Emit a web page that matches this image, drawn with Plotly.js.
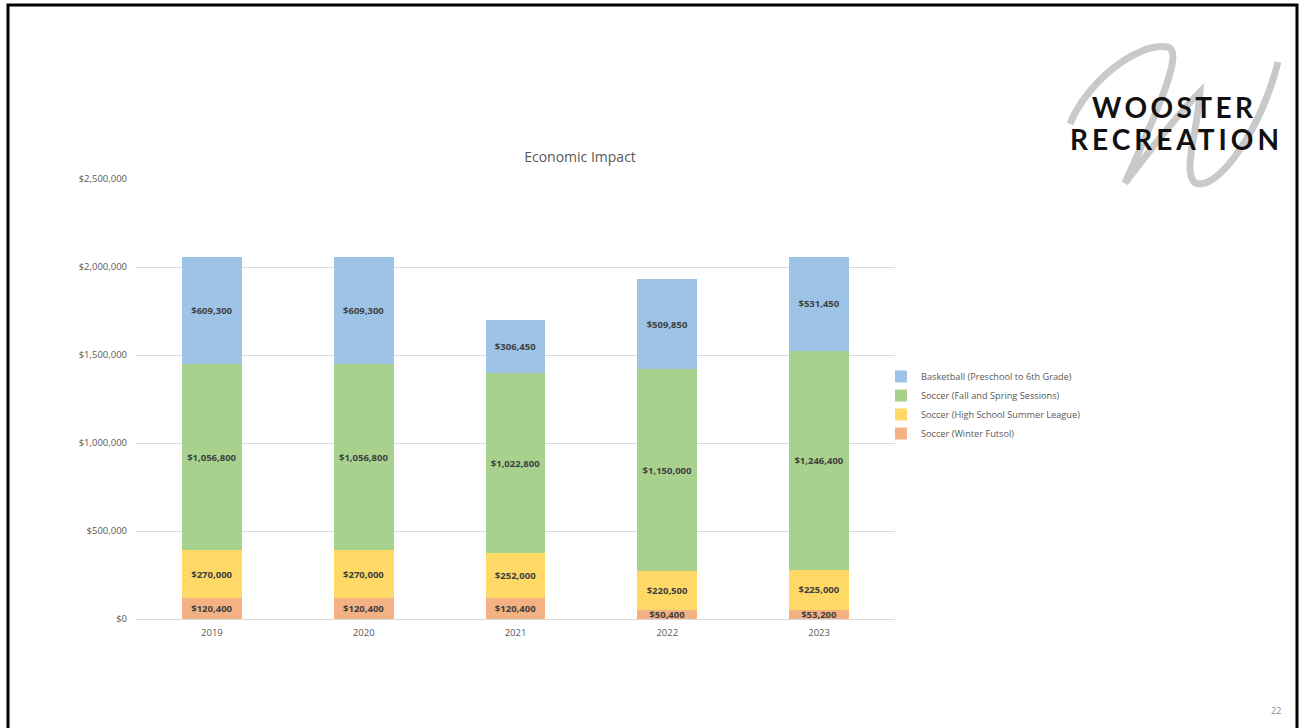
<!DOCTYPE html>
<html>
<head>
<meta charset="utf-8">
<script src="https://cdn.plot.ly/plotly-3.0.1.min.js"></script>
<style>
  html, body { margin: 0; padding: 0; background: #ffffff; }
  #chart { width: 1300px; height: 728px; }
  g.annotation[data-index="0"] text { letter-spacing: 3.4px; }
  g.annotation[data-index="1"] text { letter-spacing: 4px; }
</style>
</head>
<body>
<div id="chart"></div>
<script>
// ---- Data ----
const years = ["2019", "2020", "2021", "2022", "2023"];
const winterFutsol = [120400, 120400, 120400, 50400, 53200];
const highSchoolSummer = [270000, 270000, 252000, 220500, 225000];
const fallSpring = [1056800, 1056800, 1022800, 1150000, 1246400];
const basketball = [609300, 609300, 306450, 509850, 531450];

const seriesNames = [
  "Soccer (Winter Futsol)",
  "Soccer (High School Summer League)",
  "Soccer (Fall and Spring Sessions)",
  "Basketball (Preschool to 6th Grade)"
];
const seriesValues = [winterFutsol, highSchoolSummer, fallSpring, basketball];
const seriesColors = ["#F4B183", "#FFD966", "#A9D18E", "#9DC3E6"];

// ---- Layout helpers (plot area in pixels) ----
const W = 1300, H = 728;
const PL = 136, PR = 895, PT = 179, PB = 619;
const px = x => (x - PL) / (PR - PL);
const py = y => (PB - y) / (PB - PT);

const traces = seriesNames.map((name, i) => ({
  type: "bar",
  name: name,
  x: years,
  y: seriesValues[i],
  marker: { color: seriesColors[i], line: { width: 0 } },
  texttemplate: "$%{y:,.0f}",
  textposition: "inside",
  insidetextanchor: "middle",
  constraintext: "none",
  textangle: 0,
  textfont: { family: "Open Sans", size: 9.5, color: "#404040", weight: "bold" },
  hoverinfo: "x+y+name"
}));

// Script "W" swoosh of the logo (decoration)
const swooshPts = [
  [1070,124],
  [1085,85],[1135,42],[1168,47],
  [1182,52],[1165,95],[1125,183],
  [1150,150],[1180,112],[1200,92],
  [1198,130],[1182,172],[1195,183],
  [1218,192],[1262,128],[1278,62]
];
let swoosh = "M " + px(swooshPts[0][0]) + "," + py(swooshPts[0][1]);
for (let i = 1; i < swooshPts.length; i += 3) {
  swoosh += " C " + [0,1,2].map(k => px(swooshPts[i+k][0]) + "," + py(swooshPts[i+k][1])).join(" ");
}

const layout = {
  width: W, height: H,
  margin: { l: PL, r: W - PR, t: PT, b: H - PB, pad: 0 },
  paper_bgcolor: "#ffffff",
  plot_bgcolor: "#ffffff",
  barmode: "stack",
  bargap: 0.605,
  font: { family: "Open Sans", color: "#595959" },
  title: {
    text: "Economic Impact",
    font: { family: "Open Sans", size: 14, color: "#595959" },
    xref: "container", yref: "container",
    x: 580 / W, y: 1 - 157 / H, xanchor: "center", yanchor: "middle"
  },
  xaxis: {
    type: "category",
    showgrid: false,
    showline: true, linecolor: "#D9D9D9", linewidth: 1,
    ticks: "", ticklen: 0, ticklabelstandoff: 5,
    tickfont: { family: "Open Sans", size: 9.5, color: "#595959" },
    fixedrange: true
  },
  yaxis: {
    range: [0, 2500000],
    dtick: 500000,
    tickprefix: "$",
    tickformat: ",.0f",
    showgrid: true, gridcolor: "#D9D9D9", gridwidth: 1,
    zeroline: false, showline: false,
    ticks: "", ticklabelstandoff: 8,
    tickfont: { family: "Open Sans", size: 9.5, color: "#595959" },
    fixedrange: true
  },
  legend: {
    x: px(881), y: py(405), xanchor: "left", yanchor: "middle",
    traceorder: "reversed",
    font: { family: "Open Sans", size: 9.2, color: "#595959" },
    itemwidth: 30,
    bgcolor: "rgba(0,0,0,0)"
  },
  shapes: [
    { type: "path", xref: "paper", yref: "paper", path: swoosh,
      line: { color: "#C9C9C9", width: 7 }, layer: "below" },
    { type: "rect", xref: "paper", yref: "paper",
      x0: px(8), x1: px(1297), y0: py(745), y1: py(5),
      line: { color: "#000000", width: 3 }, fillcolor: "rgba(0,0,0,0)" }
  ],
  annotations: [
    { text: "<b>WOOSTER</b>", xref: "paper", yref: "paper", x: px(1175), y: py(107),
      xanchor: "center", yanchor: "middle", showarrow: false,
      font: { family: "Lato", size: 28, color: "#111111" } },
    { text: "<b>RECREATION</b>", xref: "paper", yref: "paper", x: px(1176), y: py(139),
      xanchor: "center", yanchor: "middle", showarrow: false,
      font: { family: "Lato", size: 28, color: "#111111" } },
    { text: "22", xref: "paper", yref: "paper", x: px(1276), y: py(710),
      xanchor: "center", yanchor: "middle", showarrow: false,
      font: { family: "Open Sans", size: 9, color: "#8C8C8C" } }
  ]
};

Plotly.newPlot("chart", traces, layout, { displayModeBar: false, staticPlot: true });
</script>
</body>
</html>
